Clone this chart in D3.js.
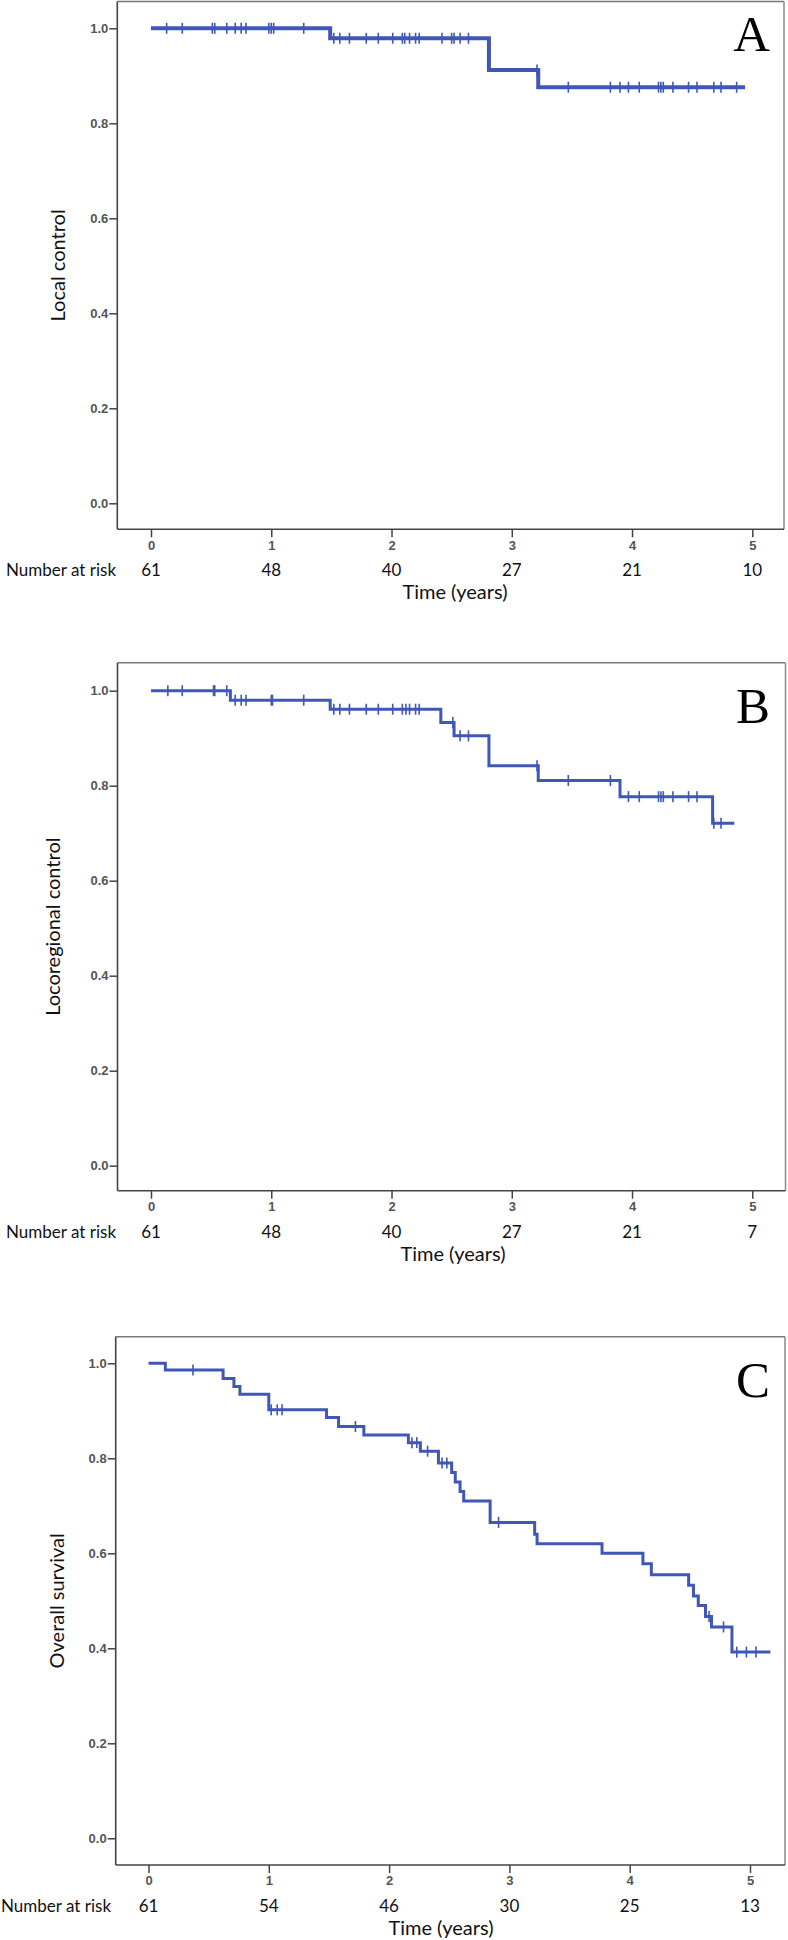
<!DOCTYPE html>
<html><head><meta charset="utf-8">
<script src="https://cdn.jsdelivr.net/npm/d3@7"></script>
<style>body{margin:0;background:#fff}svg{display:block}</style>
</head><body>
<svg id="chart" width="788" height="1940"></svg>
<script>
// ---------- data ----------
const xTicks = [0, 1, 2, 3, 4, 5];
const yTicks = [0, 0.2, 0.4, 0.6, 0.8, 1.0];

// Panel A: Local control
const riskA = [61, 48, 40, 27, 21, 10];
const stepTimesA = [0, 1.49, 2.81, 3.22];
const stepSurvA = [1.0, 0.979, 0.912, 0.876];
const endA = 4.94;
const censorA = [0.13, 0.26, 0.51, 0.53, 0.63, 0.70, 0.75, 0.79, 0.98, 1.00, 1.02, 1.27,
  1.52, 1.57, 1.65, 1.79, 1.89, 2.01, 2.09, 2.11, 2.15, 2.20, 2.23, 2.42, 2.50, 2.52, 2.57, 2.64,
  3.21, 3.47, 3.82, 3.90, 3.97, 4.06, 4.22, 4.24, 4.26, 4.34, 4.47, 4.54, 4.68, 4.74, 4.87];

// Panel B: Locoregional control
const riskB = [61, 48, 40, 27, 21, 7];
const stepTimesB = [0, 0.66, 1.49, 2.41, 2.52, 2.81, 3.22, 3.90, 4.67];
const stepSurvB = [1.0, 0.980, 0.961, 0.933, 0.905, 0.842, 0.811, 0.777, 0.721];
const endB = 4.85;
const censorB = [0.14, 0.26, 0.52, 0.53, 0.63, 0.70, 0.75, 0.79, 1.00, 1.01, 1.27,
  1.52, 1.57, 1.65, 1.79, 1.89, 2.01, 2.09, 2.12, 2.15, 2.20, 2.23, 2.51, 2.57, 2.64,
  3.21, 3.47, 3.82, 3.97, 4.06, 4.22, 4.24, 4.26, 4.34, 4.47, 4.54, 4.68, 4.74];

// Panel C: Overall survival
const riskC = [61, 54, 46, 30, 25, 13];
const stepTimesC = [0, 0.14, 0.62, 0.71, 0.76, 1.00, 1.48, 1.58, 1.79, 2.16, 2.26, 2.41, 2.52, 2.55, 2.59, 2.62,
  2.84, 3.21, 3.23, 3.77, 4.11, 4.18, 4.49, 4.53, 4.57, 4.63, 4.68, 4.85];
const stepSurvC = [1.0, 0.986, 0.968, 0.951, 0.935, 0.902, 0.886, 0.867, 0.849, 0.833, 0.815, 0.790, 0.770, 0.750, 0.730, 0.710,
  0.665, 0.640, 0.620, 0.600, 0.578, 0.555, 0.533, 0.510, 0.490, 0.467, 0.445, 0.392];
const endC = 5.17;
const censorC = [0.37, 1.02, 1.07, 1.11, 1.72, 2.19, 2.23, 2.32, 2.44, 2.48, 2.91, 4.66, 4.78, 4.89, 4.97, 5.05];

const letters = ["A", "B", "C"];
const yLabels = ["Local control", "Locoregional control", "Overall survival"];
const xTitle = "Time (years)";
const riskTitle = "Number at risk";

// ---------- layout ----------
const panels = [
  {letter: letters[0], ylabel: yLabels[0], times: stepTimesA, surv: stepSurvA, end: endA, censor: censorA, risk: riskA,
   x0: 151, x5: 752.3, y0: 503.3, y1: 28.3, l: 117.3, r: 784, t: 1.5, b: 529.3, lw: 4,
   labelX: 58, letterY: 51, riskX: 6, titleX: 455},
  {letter: letters[1], ylabel: yLabels[1], times: stepTimesB, surv: stepSurvB, end: endB, censor: censorB, risk: riskB,
   x0: 151, x5: 752.3, y0: 1165.7, y1: 690.7, l: 117.5, r: 785.5, t: 662.7, b: 1190.7, lw: 3,
   labelX: 53, letterY: 723, riskX: 6, titleX: 453},
  {letter: letters[2], ylabel: yLabels[2], times: stepTimesC, surv: stepSurvC, end: endC, censor: censorC, risk: riskC,
   x0: 148.5, x5: 750, y0: 1838.3, y1: 1363.3, l: 115.7, r: 785, t: 1336.7, b: 1865, lw: 3,
   labelX: 57, letterY: 1397, riskX: 1, titleX: 441}
];

const svg = d3.select("#chart");
const blue = "#3f57b6";

panels.forEach(p => {
  const x = d3.scaleLinear().domain([0, 5]).range([p.x0, p.x5]);
  const y = d3.scaleLinear().domain([0, 1]).range([p.y0, p.y1]);
  const g = svg.append("g");

  // frame (top / right lighter)
  g.append("line").attr("x1", p.l).attr("x2", p.r).attr("y1", p.t).attr("y2", p.t)
    .attr("stroke", "#7a7a7a").attr("stroke-width", 1.5);
  g.append("line").attr("x1", p.r).attr("x2", p.r).attr("y1", p.t).attr("y2", p.b)
    .attr("stroke", "#8a8a8a").attr("stroke-width", 1.5);

  // y axis
  const ya = g.append("g").attr("transform", `translate(${p.l},0)`)
    .call(d3.axisLeft(y).tickValues(yTicks).tickFormat(d3.format(".1f")).tickSize(8).tickSizeOuter(0).tickPadding(1));
  ya.select(".domain").remove();
  ya.selectAll(".tick line").attr("stroke", "#444").attr("stroke-width", 1.5);
  ya.selectAll(".tick text").attr("font-family", "Liberation Sans, Arial, sans-serif")
    .attr("font-weight", "bold").attr("font-size", 13).attr("fill", "#555");
  g.append("line").attr("x1", p.l).attr("x2", p.l).attr("y1", p.t).attr("y2", p.b)
    .attr("stroke", "#444").attr("stroke-width", 1.6);

  // x axis
  const xa = g.append("g").attr("transform", `translate(0,${p.b})`)
    .call(d3.axisBottom(x).tickValues(xTicks).tickFormat(d3.format("d")).tickSize(8).tickSizeOuter(0));
  xa.select(".domain").remove();
  xa.selectAll(".tick line").attr("stroke", "#444").attr("stroke-width", 1.5);
  xa.selectAll(".tick text").attr("y", 11).attr("dy", "0.71em")
    .attr("font-family", "Liberation Sans, Arial, sans-serif")
    .attr("font-weight", "bold").attr("font-size", 13).attr("fill", "#555");
  g.append("line").attr("x1", p.l).attr("x2", p.r).attr("y1", p.b).attr("y2", p.b)
    .attr("stroke", "#444").attr("stroke-width", 1.6);

  // survival curve
  const pts = p.times.map((t, i) => [t, p.surv[i]]);
  pts.push([p.end, p.surv[p.surv.length - 1]]);
  const line = d3.line().x(d => x(d[0])).y(d => y(d[1])).curve(d3.curveStepAfter);
  g.append("path").datum(pts).attr("d", line).attr("fill", "none")
    .attr("stroke", blue).attr("stroke-width", p.lw).attr("stroke-linejoin", "miter");

  // censor marks
  const survAt = t => { let s = p.surv[0]; p.times.forEach((tt, i) => { if (tt <= t) s = p.surv[i]; }); return s; };
  g.selectAll(".cens").data(p.censor).enter().append("line")
    .attr("x1", d => x(d)).attr("x2", d => x(d))
    .attr("y1", d => y(survAt(d)) - 5.5).attr("y2", d => y(survAt(d)) + 5.5)
    .attr("stroke", blue).attr("stroke-width", 1.6);

  // panel letter
  g.append("text").attr("x", 770).attr("y", p.letterY).attr("text-anchor", "end")
    .attr("font-family", "Liberation Serif, Times New Roman, serif").attr("font-size", 51)
    .attr("fill", "#000").text(p.letter);

  // y label
  const midY = (p.t + p.b) / 2;
  g.append("text").attr("transform", `translate(${p.labelX},${midY}) rotate(-90)`)
    .attr("text-anchor", "middle").attr("dy", "0.35em")
    .attr("font-family", "Lato, Open Sans, sans-serif").attr("font-size", 20).attr("fill", "#111")
    .text(p.ylabel);

  // number at risk row
  const riskY = p.b + 41 + 6;
  g.append("text").attr("x", p.riskX).attr("y", riskY)
    .attr("font-family", "Lato, Open Sans, sans-serif").attr("font-size", 17).attr("fill", "#111")
    .text(riskTitle);
  g.selectAll(".risk").data(p.risk).enter().append("text")
    .attr("x", (d, i) => x(xTicks[i])).attr("y", riskY).attr("text-anchor", "middle")
    .attr("font-family", "Lato, Open Sans, sans-serif").attr("font-size", 17).attr("fill", "#111")
    .text(d => d);

  // x title
  g.append("text").attr("x", p.titleX).attr("y", p.b + 63 + 7).attr("text-anchor", "middle")
    .attr("font-family", "Lato, Open Sans, sans-serif").attr("font-size", 20).attr("fill", "#111")
    .text(xTitle);
});
</script>
</body></html>
